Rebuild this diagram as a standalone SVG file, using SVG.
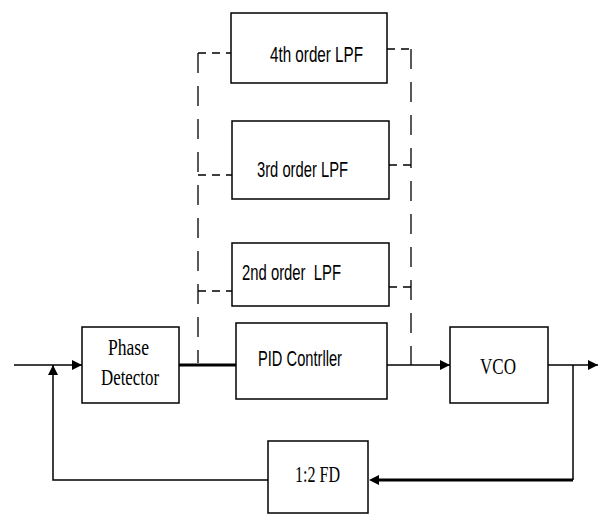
<svg xmlns="http://www.w3.org/2000/svg" width="604" height="516" viewBox="0 0 604 516">
<defs>
<style>
.box{fill:#fff;stroke:#000;stroke-width:1.5}
.ln{fill:none;stroke:#000;stroke-width:1.5}
.thick{fill:none;stroke:#000;stroke-width:3}
.dash{fill:none;stroke:#000;stroke-width:1.3;stroke-dasharray:20 13}
.hd{fill:none;stroke:#000;stroke-width:1.3;stroke-dasharray:8 6}
.sans{font-family:"Liberation Sans",Arial,sans-serif;font-size:22px;fill:#000}
.serif{font-family:"Liberation Serif","Times New Roman",serif;font-size:23px;fill:#000}
</style>
<marker id="arr" viewBox="0 0 10 10" refX="10" refY="5" markerWidth="10" markerHeight="11" markerUnits="userSpaceOnUse" orient="auto">
<path d="M0,0 L10,5 L0,10 z" fill="#000"/>
</marker>
</defs>
<rect width="604" height="516" fill="#fff"/>
<g id="connectors">
<path class="ln" d="M14,365 H82" marker-end="url(#arr)"/>
<path class="ln" d="M268,480 H53 V365" marker-end="url(#arr)"/>
<path class="thick" d="M179,365 H236"/>
<path class="ln" d="M387,365 H450" marker-end="url(#arr)"/>
<path class="ln" d="M548,365 H598" marker-end="url(#arr)"/>
<path class="ln" d="M573,365 V480"/>
<path class="thick" d="M573,480 H376"/>
<path d="M379,475 L369,480 L379,485 z" fill="#000"/>
<path class="dash" d="M198,53 V363"/>
<path class="hd" d="M198,53 H231"/>
<path class="hd" d="M198,175 H232"/>
<path class="hd" d="M198,291 H233"/>
<path class="dash" d="M411,49 V365"/>
<path class="hd" d="M387,49 H411"/>
<path class="hd" d="M389,165 H411"/>
<path class="hd" d="M389,287 H411"/>
</g>
<g id="lpf4">
<rect class="box" x="231" y="13" width="156" height="70"/>
<text class="sans" x="270" y="62" textLength="93" lengthAdjust="spacingAndGlyphs">4th order LPF</text>
</g>
<g id="lpf3">
<rect class="box" x="232" y="121" width="157" height="78"/>
<text class="sans" x="257" y="177" textLength="91" lengthAdjust="spacingAndGlyphs">3rd order LPF</text>
</g>
<g id="lpf2">
<rect class="box" x="232" y="243" width="157" height="63"/>
<text class="sans" x="242" y="280" textLength="99" lengthAdjust="spacingAndGlyphs" xml:space="preserve">2nd order  LPF</text>
</g>
<g id="pd">
<rect class="box" x="82" y="327" width="97" height="76"/>
<text class="serif" x="108" y="355" textLength="41" lengthAdjust="spacingAndGlyphs">Phase</text>
<text class="serif" x="101" y="385" textLength="58" lengthAdjust="spacingAndGlyphs">Detector</text>
</g>
<g id="pid">
<rect class="box" x="236" y="323" width="151" height="76"/>
<text class="sans" x="258" y="366" textLength="84" lengthAdjust="spacingAndGlyphs">PID Contrller</text>
</g>
<g id="vco">
<rect class="box" x="450" y="327" width="98" height="76"/>
<text class="serif" x="480" y="374" textLength="36" lengthAdjust="spacingAndGlyphs">VCO</text>
</g>
<g id="fd">
<rect class="box" x="268" y="441" width="100" height="72"/>
<text class="serif" x="295" y="482" textLength="45" lengthAdjust="spacingAndGlyphs">1:2 FD</text>
</g>
</svg>
